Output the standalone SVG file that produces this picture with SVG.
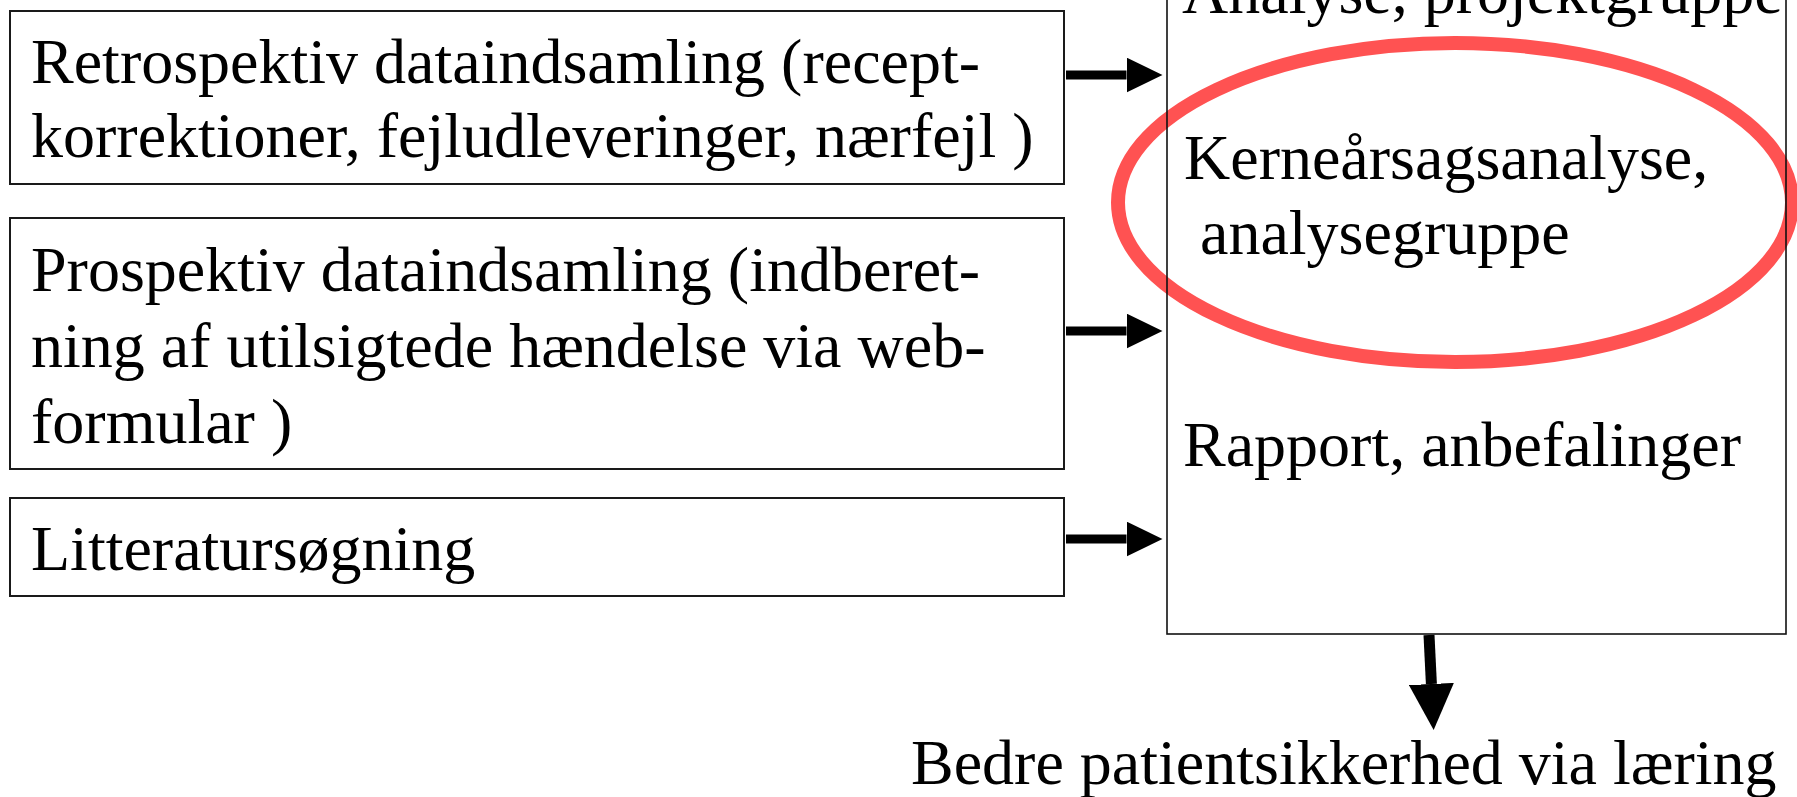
<svg xmlns="http://www.w3.org/2000/svg" width="1797" height="797" viewBox="0 0 1797 797">
<style>
.t{font-family:"Liberation Serif","Times New Roman",serif;font-size:64px;fill:#000}
.box{fill:#fff;stroke:#1a1a1a;stroke-width:2}
.big{fill:none;stroke:#111;stroke-width:1.6}
.conn{stroke:#000;fill:none}
</style>
<defs>
<marker id="ah" viewBox="0 0 36 35" markerWidth="36" markerHeight="35" refX="0" refY="17.5" orient="auto" markerUnits="userSpaceOnUse"><path d="M0,0 L36,17.5 L0,35 Z" fill="#000"/></marker>
<marker id="ahb" viewBox="0 0 46 45" markerWidth="46" markerHeight="45" refX="0" refY="22.5" orient="auto" markerUnits="userSpaceOnUse"><path d="M0,0 L46,22.5 L0,45 Z" fill="#000"/></marker>
</defs>
<rect width="1797" height="797" fill="#fff"/>
<g id="highlight">
<ellipse cx="1455" cy="202.5" rx="337" ry="159.5" fill="none" stroke="#ff5252" stroke-width="14"/>
</g>
<g id="process">
<rect class="big" x="1167" y="-20" width="619" height="654"/>
<text class="t" x="1182" y="13">Analyse, projektgruppe</text>
<text class="t" x="1184" y="179">Kerneårsagsanalyse,</text>
<text class="t" x="1200" y="254">analysegruppe</text>
<text class="t" x="1183" y="466">Rapport, anbefalinger</text>
</g>
<g id="retro">
<rect class="box" x="10" y="11" width="1054" height="173"/>
<text class="t" x="31" y="83">Retrospektiv dataindsamling (recept-</text>
<text class="t" x="31" y="157">korrektioner, fejludleveringer, nærfejl )</text>
</g>
<g id="prosp">
<rect class="box" x="10" y="218" width="1054" height="251"/>
<text class="t" x="31" y="291">Prospektiv dataindsamling (indberet-</text>
<text class="t" x="31" y="367">ning af utilsigtede hændelse via web-</text>
<text class="t" x="31" y="443">formular )</text>
</g>
<g id="litt">
<rect class="box" x="10" y="498" width="1054" height="98"/>
<text class="t" x="31" y="570">Litteratursøgning</text>
</g>
<g id="result">
<text class="t" x="911" y="784">Bedre patientsikkerhed via læring</text>
</g>
<g id="connectors">
<line class="conn" x1="1066" y1="75" x2="1126.5" y2="75" stroke-width="9" marker-end="url(#ah)"/>
<line class="conn" x1="1066" y1="331" x2="1126.5" y2="331" stroke-width="9" marker-end="url(#ah)"/>
<line class="conn" x1="1066" y1="539" x2="1126.5" y2="539" stroke-width="9" marker-end="url(#ah)"/>
<line class="conn" x1="1429" y1="635" x2="1431.4" y2="684" stroke-width="11" marker-end="url(#ahb)"/>
</g>
</svg>
